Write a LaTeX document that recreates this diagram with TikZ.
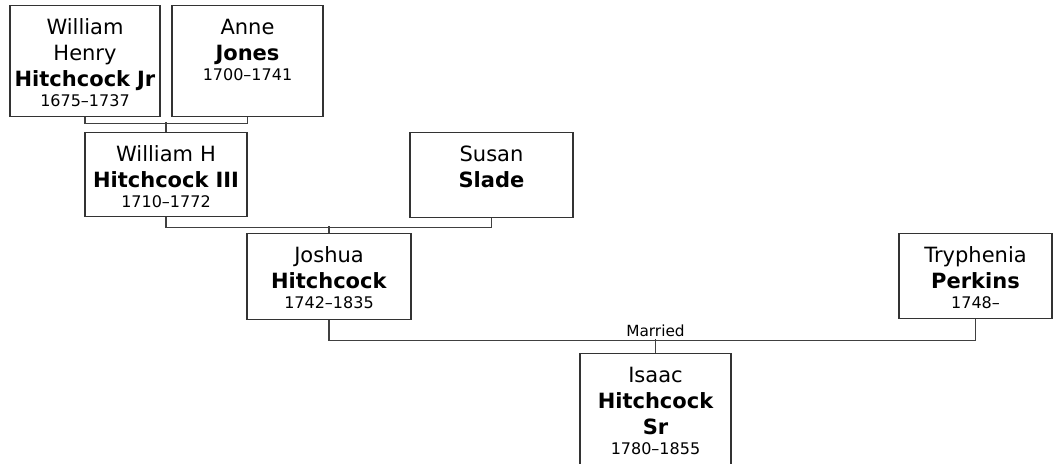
\documentclass[tikz,border=0pt]{standalone}
\usepackage{fontspec}
\setmainfont{DejaVu Sans}
\newlength{\pix}
\setlength{\pix}{0.75pt}
\newcommand{\yrs}[1]{\par{\fontsize{12pt}{15pt}\selectfont #1\par}}

\begin{document}
\begin{tikzpicture}[
        x=0.75pt, y=-0.75pt,
        every node/.style={font=\fontsize{15.75pt}{19.5pt}\selectfont}, % name lines
        person/.style={draw=black!80, line width=1.3\pix, anchor=north, inner sep=0pt,
            align=center, text height=29\pix},
        link/.style={draw=black!75, line width=1.2\pix},
        wed/.style={font=\fontsize{11.5pt}{14pt}\selectfont, inner sep=2\pix}
    ]
        \useasboundingbox (0,0) rectangle (1053,464);

        \node[person, text width=150\pix, text depth=82\pix] (jr) at (85,5)
            {William\\Henry\\\textbf{Hitchcock Jr}\yrs{1675–1737}};
        \node[person, text width=151\pix, text depth=82\pix] (anne) at (247.5,5)
            {Anne\\\textbf{Jones}\yrs{1700–1741}};
        \node[person, text width=162\pix, text depth=55\pix] (wh3) at (166,132)
            {William H\\\textbf{Hitchcock III}\yrs{1710–1772}};
        \node[person, text width=163\pix, text depth=56\pix] (susan) at (491.5,132)
            {Susan\\\textbf{Slade}};
        \node[person, text width=164\pix, text depth=57\pix] (joshua) at (329,233)
            {Joshua\\\textbf{Hitchcock}\yrs{1742–1835}};
        \node[person, text width=153\pix, text depth=56\pix] (tryph) at (975.5,233)
            {Tryphenia\\\textbf{Perkins}\yrs{1748–}};
        \node[person, text width=151\pix, text depth=86\pix] (isaac) at (655.5,353)
            {Isaac\\\textbf{Hitchcock\\Sr}\yrs{1780–1855}};

        % couples and children
        \draw[link] (jr.south) -- ++(0,6) -| (anne.south);
        \draw[link] (wh3.north) -- ++(0,-10);
        \draw[link] (wh3.south) -- ++(0,10) -| (susan.south);
        \draw[link] (joshua.north) -- ++(0,-7);
        \draw[link] (joshua.south) -- ++(0,20) -| (tryph.south);
        \draw[link] (isaac.north) -- ++(0,-14) node[wed, above] (married) {Married};
\end{tikzpicture}
\end{document}
